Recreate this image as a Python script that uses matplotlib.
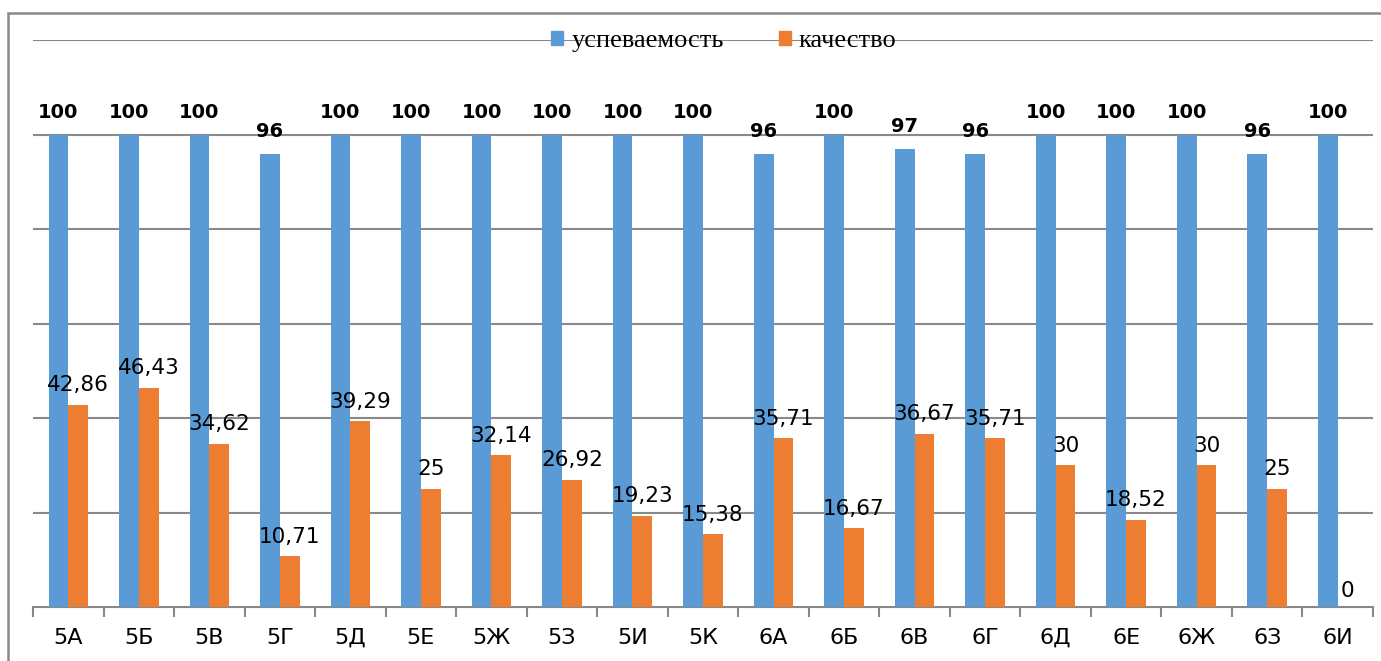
import numpy as np
import matplotlib.pyplot as plt
from matplotlib.patches import Patch, Rectangle

classes = ['5А', '5Б', '5В', '5Г', '5Д', '5Е', '5Ж', '5З', '5И', '5К',
           '6А', '6Б', '6В', '6Г', '6Д', '6Е', '6Ж', '6З', '6И']
uspev = [100, 100, 100, 96, 100, 100, 100, 100, 100, 100,
         96, 100, 97, 96, 100, 100, 100, 96, 100]
kach = [42.86, 46.43, 34.62, 10.71, 39.29, 25, 32.14, 26.92, 19.23, 15.38,
        35.71, 16.67, 36.67, 35.71, 30, 18.52, 30, 25, 0]

blue = '#5B9BD5'
orange = '#ED7D31'
grey = '#898989'
W, H = 1381, 661

plt.rcParams['font.family'] = ['DejaVu Sans']

fig = plt.figure(figsize=(W / 100, H / 100), dpi=100)
ax = fig.add_axes([33 / W, 1 - 607 / H, 1340 / W, (607 - 40.4) / H])

x = np.arange(len(classes))
bw = 0.28
ax.bar(x - bw / 2, uspev, bw, color=blue, zorder=3)
ax.bar(x + bw / 2, kach, bw, color=orange, zorder=3)

for xi, v in zip(x, uspev):
    ax.annotate(f'{v:g}', (xi - bw / 2, v), xytext=(0, 9), textcoords='offset points',
                ha='center', va='bottom', fontsize=14, fontweight='bold', color='black')
for xi, v in zip(x, kach):
    txt = f'{v:g}'.replace('.', ',')
    off = 4 if v == 0 else 7
    ax.annotate(txt, (xi + bw / 2, v), xytext=(0, off), textcoords='offset points',
                ha='center', va='bottom', fontsize=15.5, color='black')

ax.set_xlim(-0.5, len(classes) - 0.5)
ax.set_ylim(0, 120)
ax.set_yticks(np.arange(20, 121, 20))
ax.yaxis.grid(True, color=grey, linewidth=1.5, zorder=0)
ax.tick_params(axis='y', left=False, labelleft=False)

ax.set_xticks(x)
ax.set_xticklabels(classes, fontsize=16)
ax.set_xticks(np.arange(-0.5, len(classes), 1), minor=True)
ax.tick_params(axis='x', which='major', length=0, pad=15)
ax.tick_params(axis='x', which='minor', length=7, width=1.5, color=grey)

for s in ['left', 'right', 'top']:
    ax.spines[s].set_visible(False)
ax.spines['bottom'].set_color(grey)
ax.spines['bottom'].set_linewidth(1.5)

handles = [Patch(color=blue, label='успеваемость'), Patch(color=orange, label='качество')]
fig.legend(handles=handles, loc='center', bbox_to_anchor=(724 / W, 1 - 41 / H),
           ncol=2, frameon=False, handlelength=0.45, handleheight=0.45,
           handletextpad=0.3, columnspacing=2.1,
           prop={'family': 'Liberation Serif', 'size': 19})

# outer chart frame (cut off on the right and bottom)
fig.patches.append(Rectangle((8 / W, -0.1), 1.2, 1 - 13 / H + 0.1, transform=fig.transFigure,
                             fill=False, edgecolor=grey, linewidth=1.8))

fig.savefig('out.png', dpi=100)
